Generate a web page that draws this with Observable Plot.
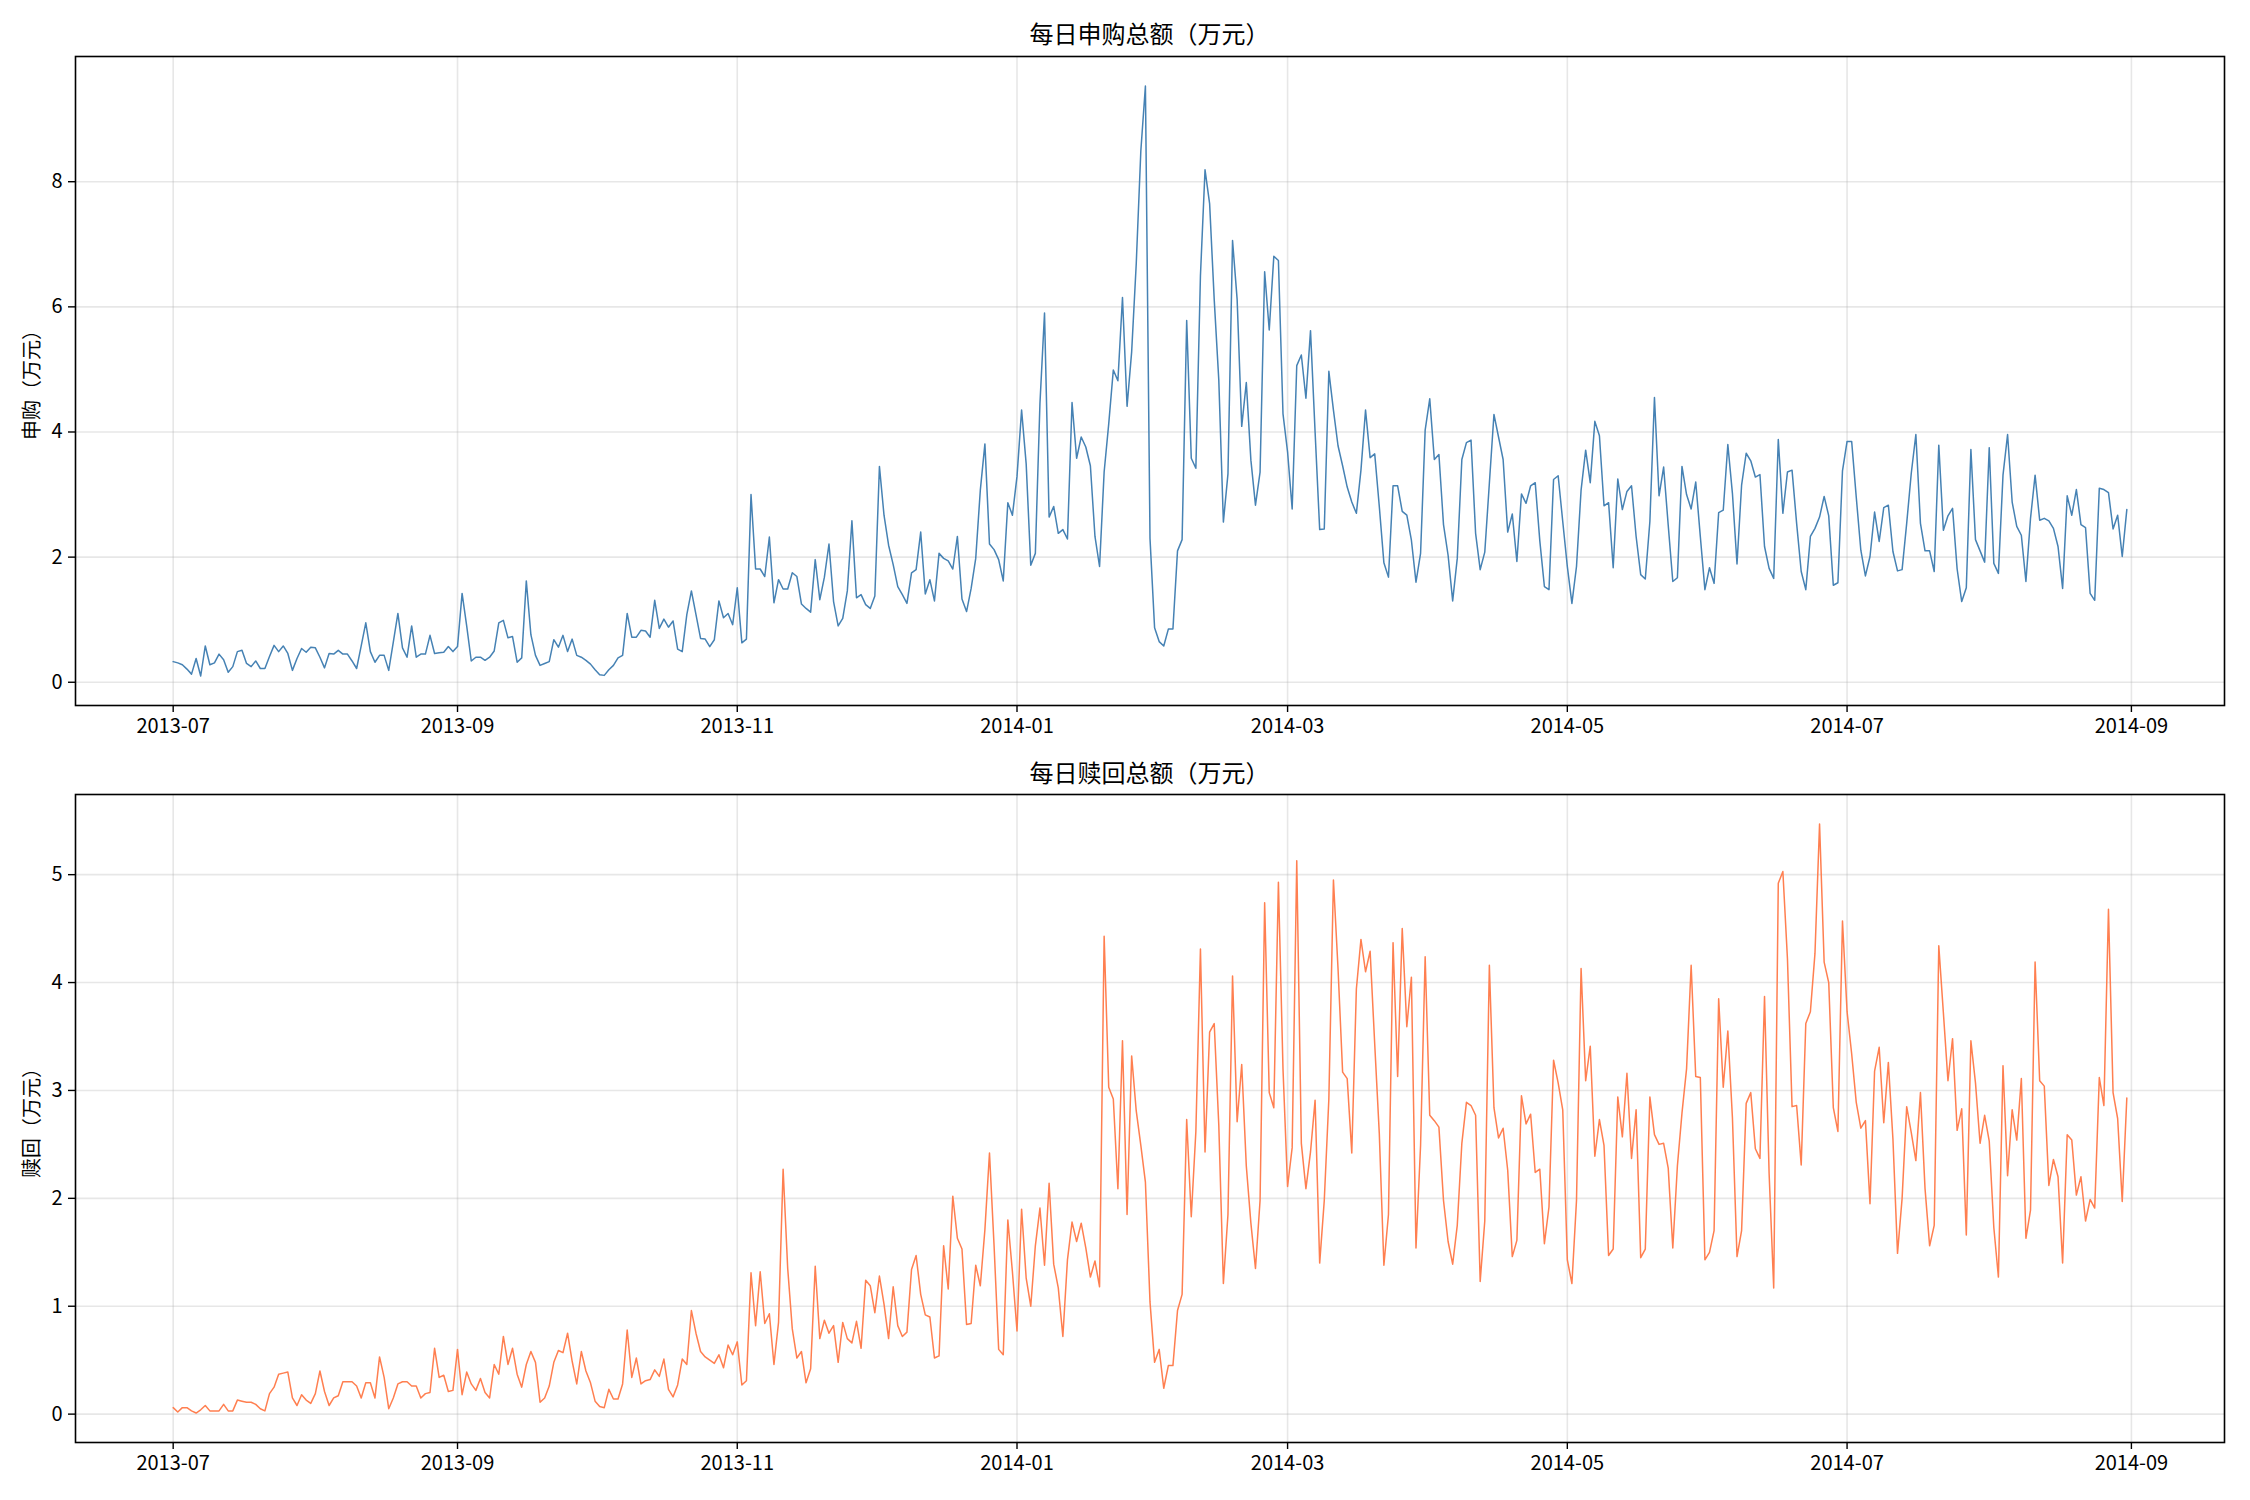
<!DOCTYPE html>
<html>
<head>
<meta charset="utf-8">
<script src="https://cdn.jsdelivr.net/npm/d3@7"></script>
<script src="https://cdn.jsdelivr.net/npm/@observablehq/plot@0.6"></script>
<style>
  body { margin: 0; background: #fff; }
  #page { position: relative; width: 2250px; height: 1500px; background: #fff;
          font-family: 'Noto Sans CJK SC', 'DejaVu Sans', sans-serif; color: #000; overflow: hidden; }
  .title { position: absolute; left: 75px; width: 2149px; text-align: center; font-size: 24px; line-height: 24px; }
  .ylab { position: absolute; font-size: 20px; line-height: 20px; white-space: nowrap;
          transform: translate(-50%, -50%) rotate(-90deg); }
  .panel { position: absolute; left: 0; }
</style>
</head>
<body>
<div id="page">
  <div class="title" style="top:21px">每日申购总额（万元）</div>
  <div class="ylab" style="left:31px; top:380px">申购（万元）</div>
  <div class="panel" id="p1" style="top:0px"></div>
  <div class="title" style="top:760px">每日赎回总额（万元）</div>
  <div class="ylab" style="left:31px; top:1118px">赎回（万元）</div>
  <div class="panel" id="p2" style="top:750px"></div>
</div>
<script>
// first day of the daily series
const startDay = [2013, 6, 1]; // 2013-07-01 (UTC, month 0-based)

// daily purchase totals (万元), 2013-07-01 .. 2014-08-31
const purchase = [
  0.33,0.31,0.28,0.21,0.13,0.38,0.10,0.58,0.28,0.31,
  0.45,0.36,0.16,0.25,0.49,0.51,0.30,0.25,0.34,0.22,
  0.22,0.41,0.59,0.49,0.58,0.46,0.19,0.38,0.54,0.48,
  0.56,0.55,0.40,0.23,0.46,0.45,0.51,0.45,0.45,0.34,
  0.22,0.58,0.95,0.49,0.32,0.43,0.43,0.19,0.64,1.10,
  0.55,0.40,0.90,0.40,0.45,0.45,0.75,0.46,0.47,0.48,
  0.57,0.49,0.57,1.42,0.90,0.34,0.40,0.40,0.35,0.40,
  0.50,0.95,0.99,0.71,0.73,0.32,0.39,1.62,0.76,0.43,
  0.27,0.30,0.33,0.68,0.56,0.75,0.49,0.69,0.43,0.40,
  0.35,0.29,0.20,0.12,0.11,0.20,0.27,0.39,0.43,1.10,
  0.72,0.72,0.83,0.82,0.72,1.31,0.86,1.01,0.88,0.98,
  0.53,0.49,1.08,1.46,1.08,0.70,0.69,0.57,0.68,1.30,
  1.03,1.10,0.92,1.51,0.63,0.69,3.00,1.81,1.81,1.69,
  2.32,1.27,1.64,1.49,1.49,1.75,1.69,1.25,1.18,1.12,
  1.96,1.32,1.68,2.21,1.29,0.90,1.02,1.46,2.58,1.35,
  1.40,1.24,1.18,1.38,3.45,2.67,2.19,1.88,1.53,1.40,
  1.26,1.75,1.80,2.40,1.41,1.64,1.30,2.06,1.98,1.94,
  1.81,2.33,1.33,1.13,1.50,1.98,3.07,3.81,2.21,2.12,
  1.96,1.62,2.87,2.67,3.29,4.35,3.49,1.87,2.06,4.45,
  5.90,2.64,2.81,2.38,2.44,2.29,4.47,3.58,3.92,3.76,
  3.46,2.33,1.85,3.36,4.13,4.99,4.82,6.15,4.41,5.28,
  6.69,8.49,9.53,2.30,0.87,0.65,0.58,0.85,0.85,2.10,
  2.28,5.78,3.58,3.42,6.50,8.19,7.65,6.12,4.83,2.56,
  3.33,7.06,6.12,4.09,4.79,3.55,2.83,3.36,6.56,5.63,
  6.81,6.74,4.29,3.68,2.77,5.06,5.23,4.54,5.62,4.00,
  2.44,2.45,4.97,4.35,3.78,3.46,3.12,2.88,2.70,3.39,
  4.35,3.59,3.65,2.81,1.91,1.68,3.14,3.14,2.73,2.67,
  2.27,1.60,2.06,4.03,4.53,3.56,3.64,2.52,2.03,1.30,
  1.98,3.56,3.83,3.87,2.38,1.80,2.08,3.18,4.28,3.92,
  3.56,2.40,2.69,1.93,3.01,2.86,3.14,3.19,2.26,1.53,
  1.48,3.24,3.30,2.57,1.85,1.26,1.85,3.07,3.71,3.19,
  4.17,3.94,2.82,2.87,1.83,3.25,2.76,3.05,3.14,2.33,
  1.72,1.65,2.57,4.55,2.98,3.44,2.51,1.61,1.67,3.45,
  3.00,2.77,3.20,2.33,1.48,1.83,1.58,2.71,2.75,3.80,
  3.02,1.89,3.15,3.66,3.54,3.28,3.32,2.17,1.82,1.66,
  3.88,2.70,3.36,3.39,2.54,1.77,1.48,2.33,2.46,2.64,
  2.97,2.66,1.55,1.59,3.38,3.85,3.85,2.96,2.11,1.70,
  2.01,2.72,2.25,2.79,2.83,2.09,1.78,1.80,2.54,3.34,
  3.96,2.54,2.10,2.10,1.77,3.79,2.43,2.66,2.78,1.81,
  1.29,1.51,3.72,2.28,2.10,1.92,3.75,1.90,1.74,3.31,
  3.96,2.88,2.49,2.35,1.61,2.62,3.31,2.59,2.62,2.58,
  2.46,2.17,1.50,2.98,2.67,3.08,2.52,2.47,1.42,1.31,
  3.10,3.08,3.03,2.45,2.67,2.01,2.76
];

// daily redemption totals (万元), same days
const redeem = [
  0.06,0.02,0.06,0.06,0.03,0.01,0.04,0.08,0.03,0.03,
  0.03,0.09,0.03,0.03,0.13,0.12,0.11,0.11,0.09,0.05,
  0.03,0.19,0.25,0.37,0.38,0.39,0.15,0.08,0.18,0.13,
  0.10,0.19,0.40,0.21,0.08,0.15,0.17,0.30,0.30,0.30,
  0.26,0.15,0.29,0.29,0.15,0.53,0.34,0.05,0.15,0.28,
  0.30,0.30,0.26,0.26,0.15,0.19,0.20,0.61,0.34,0.36,
  0.21,0.22,0.60,0.18,0.39,0.28,0.22,0.33,0.20,0.15,
  0.46,0.37,0.72,0.46,0.61,0.37,0.25,0.46,0.58,0.48,
  0.11,0.15,0.26,0.48,0.59,0.57,0.75,0.49,0.28,0.58,
  0.40,0.29,0.12,0.07,0.06,0.23,0.14,0.14,0.28,0.78,
  0.34,0.52,0.28,0.31,0.32,0.41,0.35,0.51,0.23,0.16,
  0.27,0.51,0.46,0.96,0.75,0.58,0.53,0.50,0.47,0.55,
  0.43,0.64,0.55,0.67,0.27,0.31,1.31,0.82,1.32,0.84,
  0.93,0.46,0.85,2.27,1.35,0.79,0.52,0.58,0.29,0.42,
  1.37,0.70,0.87,0.75,0.82,0.48,0.85,0.70,0.66,0.86,
  0.61,1.24,1.19,0.94,1.28,1.02,0.70,1.18,0.82,0.72,
  0.76,1.34,1.47,1.11,0.92,0.90,0.52,0.54,1.56,1.16,
  2.02,1.63,1.53,0.83,0.84,1.38,1.19,1.71,2.42,1.56,
  0.60,0.55,1.80,1.32,0.77,1.90,1.26,1.00,1.56,1.91,
  1.38,2.14,1.39,1.17,0.72,1.43,1.78,1.60,1.77,1.54,
  1.27,1.42,1.18,4.43,3.03,2.92,2.09,3.46,1.85,3.32,
  2.81,2.49,2.15,1.04,0.48,0.60,0.24,0.45,0.45,0.96,
  1.11,2.73,1.83,2.62,4.31,2.43,3.54,3.62,2.68,1.21,
  1.85,4.06,2.71,3.24,2.30,1.77,1.35,1.98,4.74,2.98,
  2.84,4.93,3.20,2.11,2.47,5.13,2.51,2.09,2.43,2.91,
  1.40,1.98,2.92,4.95,4.13,3.17,3.11,2.42,3.94,4.40,
  4.10,4.29,3.43,2.60,1.38,1.85,4.37,3.13,4.50,3.59,
  4.05,1.54,2.49,4.24,2.77,2.72,2.66,1.98,1.60,1.39,
  1.75,2.51,2.89,2.86,2.77,1.23,1.79,4.16,2.84,2.56,
  2.65,2.26,1.46,1.61,2.95,2.69,2.78,2.24,2.27,1.58,
  1.92,3.28,3.07,2.82,1.43,1.21,1.98,4.13,3.09,3.41,
  2.39,2.73,2.49,1.47,1.53,2.94,2.57,3.16,2.37,2.82,
  1.45,1.53,2.94,2.59,2.50,2.51,2.28,1.54,2.30,2.79,
  3.20,4.16,3.13,3.12,1.43,1.50,1.70,3.85,3.03,3.55,
  2.75,1.46,1.70,2.88,2.98,2.46,2.37,3.87,2.23,1.17,
  4.92,5.03,4.22,2.85,2.86,2.31,3.62,3.73,4.27,5.47,
  4.19,4.00,2.84,2.62,4.57,3.73,3.34,2.89,2.65,2.72,
  1.95,3.18,3.40,2.70,3.26,2.55,1.49,2.00,2.85,2.61,
  2.35,2.98,2.09,1.56,1.75,4.34,3.72,3.09,3.48,2.63,
  2.83,1.66,3.46,3.07,2.51,2.77,2.53,1.73,1.27,3.23,
  2.21,2.82,2.54,3.11,1.63,1.89,4.19,3.09,3.04,2.12,
  2.36,2.20,1.40,2.59,2.54,2.03,2.20,1.79,1.99,1.91,
  3.12,2.86,4.68,2.98,2.74,1.97,2.93
];

// axis tick labels
const xTickLabels = ["2013-07","2013-09","2013-11","2014-01","2014-03","2014-05","2014-07","2014-09"];
const purchaseTicks = [0, 2, 4, 6, 8];
const redeemTicks = [0, 1, 2, 3, 4, 5];

const t0 = new Date(Date.UTC(startDay[0], startDay[1], startDay[2]));
const dates = purchase.map((_, i) => d3.utcDay.offset(t0, i));
const xTicks = xTickLabels.map(s => d3.utcParse("%Y-%m")(s));
const fontFamily = "'Noto Sans CJK SC', 'DejaVu Sans', sans-serif";

function panel(values, yTicks, color, height, mTop, mBottom) {
  const data = values.map((v, i) => ({date: dates[i], value: v}));
  const a = dates[0], b = dates[dates.length - 1];
  const pad = (b - a) * 0.05;
  const [lo, hi] = d3.extent(values);
  const yp = (hi - lo) * 0.05;
  const gridStyle = {stroke: "#b0b0b0", strokeOpacity: 0.3, strokeWidth: 1.6};
  return Plot.plot({
    width: 2250,
    height,
    marginLeft: 75,
    marginRight: 26,
    marginTop: mTop,
    marginBottom: mBottom,
    style: {fontFamily, fontSize: "20px", color: "#000", background: "transparent", overflow: "visible"},
    x: {type: "utc", domain: [new Date(+a - pad), new Date(+b + pad)]},
    y: {domain: [lo - yp, hi + yp]},
    marks: [
      Plot.gridX(xTicks, gridStyle),
      Plot.gridY(yTicks, gridStyle),
      Plot.lineY(data, {x: "date", y: "value", stroke: color, strokeWidth: 1.5}),
      Plot.frame({stroke: "#000", strokeWidth: 1.6}),
      Plot.axisX(xTicks, {tickFormat: d3.utcFormat("%Y-%m"), tickSize: 7, tickPadding: 6, label: null, fontSize: 20, strokeWidth: 1.4}),
      Plot.axisY(yTicks, {tickFormat: d3.format("d"), tickSize: 7, tickPadding: 6, label: null, fontSize: 20, strokeWidth: 1.4})
    ]
  });
}

document.getElementById("p1").append(panel(purchase, purchaseTicks, "#4682b4", 750, 56, 45));
document.getElementById("p2").append(panel(redeem, redeemTicks, "#ff7f50", 750, 44, 58));
</script>
</body>
</html>
